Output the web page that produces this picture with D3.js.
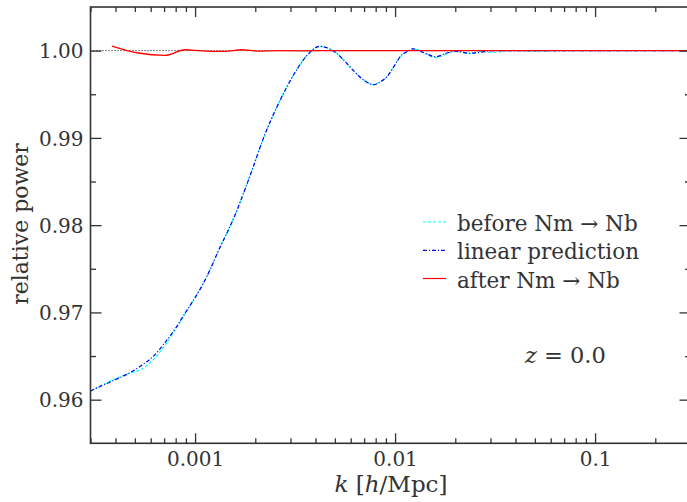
<!DOCTYPE html>
<html><head><meta charset="utf-8">
<script src="https://cdn.jsdelivr.net/npm/d3@7"></script>
<style>
html,body{margin:0;padding:0;background:#fff;}
svg{display:block;}
text{font-family:"DejaVu Serif","Liberation Serif",serif;fill:#333;}
</style></head>
<body>
<svg id="chart" width="687" height="502"></svg>
<script>
// ---- data ----
const kLinear = [3.0e-4,3.5e-4,4.0e-4,4.65e-4,5.3e-4,6.2e-4,7.1e-4,8.0e-4,8.9e-4,1.0e-3,1.08e-3,1.2e-3,1.31e-3,1.45e-3,1.58e-3,1.75e-3,1.92e-3,2.2e-3,2.66e-3,3.2e-3,3.75e-3,4.2e-3,4.7e-3,5.1e-3,5.6e-3,6.2e-3,6.9e-3,7.5e-3,7.8e-3,8.4e-3,9.1e-3,1.0e-2,1.06e-2,1.15e-2,1.23e-2,1.38e-2,1.6e-2,1.8e-2,2.0e-2,2.35e-2,2.65e-2,3.0e-2,5.0e-2,0.1,0.3];
const linearPrediction = [0.9610,0.9617,0.9623,0.9630,0.9638,0.9650,0.9666,0.9682,0.9699,0.9717,0.9730,0.9751,0.9771,0.9792,0.9811,0.9837,0.9862,0.9900,0.9943,0.9977,0.9998,1.0005,1.0002,0.9997,0.9988,0.9977,0.9967,0.9962,0.9961,0.9964,0.9970,0.9984,0.9993,0.9999,1.0002,0.9998,0.9993,0.9997,0.99995,0.9997,0.9998,1.0000,1.0000,1.0000,1.0000];

const kBefore = [3.0e-4,3.5e-4,4.0e-4,4.65e-4,5.3e-4,6.2e-4,7.1e-4,8.0e-4,8.9e-4,1.0e-3,1.08e-3,1.2e-3,1.31e-3,1.45e-3,1.58e-3,1.75e-3,1.92e-3,2.2e-3,2.66e-3,3.2e-3,3.75e-3,4.2e-3,4.7e-3,5.1e-3,5.6e-3,6.2e-3,6.9e-3,7.5e-3,7.8e-3,8.4e-3,9.1e-3,1.0e-2,1.06e-2,1.15e-2,1.23e-2,1.38e-2,1.6e-2,1.8e-2,2.0e-2,2.35e-2,2.65e-2,3.0e-2,4.0e-2,5.0e-2,7.0e-2,0.1,0.15,0.2,0.3];
const beforeNm = [0.9610,0.9618,0.9624,0.9630,0.9634,0.9646,0.9663,0.9681,0.9698,0.9717,0.9730,0.9751,0.9771,0.9792,0.9811,0.9837,0.9862,0.9900,0.9943,0.9977,0.9998,1.0005,1.0002,0.9997,0.9988,0.9977,0.9967,0.9962,0.9961,0.9964,0.9970,0.9984,0.9993,0.9999,1.0002,0.9998,0.9992,0.9996,0.9999,0.9997,0.9999,0.9998,1.0000,0.9999,1.0000,1.0000,1.0000,1.0000,1.0000];

const kAfter = [3.84e-4,5.2e-4,7.08e-4,8.9e-4,1.08e-3,1.41e-3,1.71e-3,2.07e-3,2.6e-3,3.5e-3,5.0e-3,1.0e-2,2.0e-2,5.0e-2,0.1,0.3];
const afterNm = [1.00053,0.99973,0.99946,1.00010,0.99998,0.99992,1.00010,0.99995,1.00000,0.99998,1.00000,1.00000,1.00000,1.00000,1.00000,1.00000];

const xMajorTicks = [0.001,0.01,0.1];
const xTickLabels = ["0.001","0.01","0.1"];
const yMajorTicks = [0.96,0.97,0.98,0.99,1.00];
const yTickLabels = ["0.96","0.97","0.98","0.99","1.00"];
const legendLabels = ["before Nm \u2192 Nb","linear prediction","after Nm \u2192 Nb"];

// ---- drawing ----
const svg = d3.select("#chart");
const L = 90.5, R = 690.5, T = 7, B = 443.3;
const x = d3.scaleLog().domain([3e-4, 0.3]).range([L, R]);
const y = d3.scaleLinear().domain([0.955, 1.005]).range([B, T]);

const xMinor = [];
for (let e = -4; e <= -1; e++) for (let m = 2; m <= 9; m++) {
  const v = m * Math.pow(10, e);
  if (v >= 3e-4 && v <= 0.3) xMinor.push(v);
}
const yMinor = d3.range(0.955, 1.005, 0.01).map(v => +v.toFixed(3)).filter(v => v > 0.9551 && v < 1.0049);

svg.append("defs").append("clipPath").attr("id","clip")
  .append("rect").attr("x",L).attr("y",T).attr("width",R-L).attr("height",B-T);

const plot = svg.append("g").attr("clip-path","url(#clip)");

// reference dotted line at 1
plot.append("line").attr("x1",L).attr("x2",R).attr("y1",y(1)).attr("y2",y(1))
  .attr("stroke","#000").attr("stroke-width",1).attr("stroke-dasharray","1,2");

const line = d3.line().x(d => x(d[0])).y(d => y(d[1])).curve(d3.curveMonotoneX);

plot.append("path").datum(kBefore.map((k,i)=>[k,beforeNm[i]]))
  .attr("d",line).attr("fill","none").attr("stroke","#00ffff").attr("stroke-width",1.2)
  .attr("stroke-dasharray","3,2");
plot.append("path").datum(kLinear.map((k,i)=>[k,linearPrediction[i]]))
  .attr("d",line).attr("fill","none").attr("stroke","#0000ff").attr("stroke-width",1.2)
  .attr("stroke-dasharray","4,2,1,2");
plot.append("path").datum(kAfter.map((k,i)=>[k,afterNm[i]]))
  .attr("d",line).attr("fill","none").attr("stroke","#ff0000").attr("stroke-width",1.3);

// axes
function styleAxis(g){
  g.select(".domain").remove();
  g.selectAll(".tick line").attr("stroke","#333").attr("stroke-width",1.3);
  g.selectAll(".tick text").style("font-size","20px").attr("fill","#333")
    .style("font-family",'"DejaVu Serif",serif');
}
svg.append("g").attr("transform",`translate(0,${B})`)
  .call(d3.axisBottom(x).tickValues(xMajorTicks).tickSize(-10).tickPadding(9)
    .tickFormat((d,i)=>xTickLabels[i])).call(styleAxis);
svg.append("g").attr("transform",`translate(0,${B})`)
  .call(d3.axisBottom(x).tickValues(xMinor).tickSize(-5).tickFormat("")).call(styleAxis);
svg.append("g").attr("transform",`translate(0,${T})`)
  .call(d3.axisTop(x).tickValues(xMajorTicks).tickSize(-10).tickFormat("")).call(styleAxis);
svg.append("g").attr("transform",`translate(0,${T})`)
  .call(d3.axisTop(x).tickValues(xMinor).tickSize(-5).tickFormat("")).call(styleAxis);
const yl = svg.append("g").attr("transform",`translate(${L},0)`)
  .call(d3.axisLeft(y).tickValues(yMajorTicks).tickSize(-11).tickPadding(7)
    .tickFormat((d,i)=>yTickLabels[i])).call(styleAxis);
yl.selectAll(".tick text").attr("dy","0.36em");
svg.append("g").attr("transform",`translate(${L},0)`)
  .call(d3.axisLeft(y).tickValues(yMinor).tickSize(-5.5).tickFormat("")).call(styleAxis);
svg.append("g").attr("transform",`translate(${R},0)`)
  .call(d3.axisRight(y).tickValues(yMajorTicks).tickSize(-11).tickFormat("")).call(styleAxis);
svg.append("g").attr("transform",`translate(${R},0)`)
  .call(d3.axisRight(y).tickValues(yMinor).tickSize(-5.5).tickFormat("")).call(styleAxis);

// frame
svg.append("rect").attr("x",L).attr("y",T).attr("width",R-L).attr("height",B-T)
  .attr("fill","none").attr("stroke","#333").attr("stroke-width",1.6);

// axis titles
const xt = svg.append("text").attr("x",391).attr("y",492).attr("text-anchor","middle").style("font-size","23px");
xt.append("tspan").style("font-style","italic").text("k");
xt.append("tspan").text(" [");
xt.append("tspan").style("font-style","italic").text("h");
xt.append("tspan").text("/Mpc]");

svg.append("text").attr("transform","translate(28,224) rotate(-90)").attr("text-anchor","middle")
  .style("font-size","22px").text("relative power");

// legend
const legY = [231, 259.3, 287.5];
const legStyles = [
  {c:"#00ffff",d:"3,2"},
  {c:"#0000ff",d:"4,2,1,2"},
  {c:"#ff0000",d:null}
];
legendLabels.forEach((lab,i)=>{
  const ln = svg.append("line").attr("x1",423).attr("x2",446)
    .attr("y1",legY[i]-9).attr("y2",legY[i]-9)
    .attr("stroke",legStyles[i].c).attr("stroke-width",1.2);
  if (legStyles[i].d) ln.attr("stroke-dasharray",legStyles[i].d);
  svg.append("text").attr("x",457).attr("y",legY[i]).style("font-size","21.5px").text(lab);
});

// redshift annotation
const zt = svg.append("text").attr("x",525).attr("y",362.5).style("font-size","22.5px");
zt.append("tspan").style("font-style","italic").text("z");
zt.append("tspan").text(" = 0.0");
</script>
</body></html>
